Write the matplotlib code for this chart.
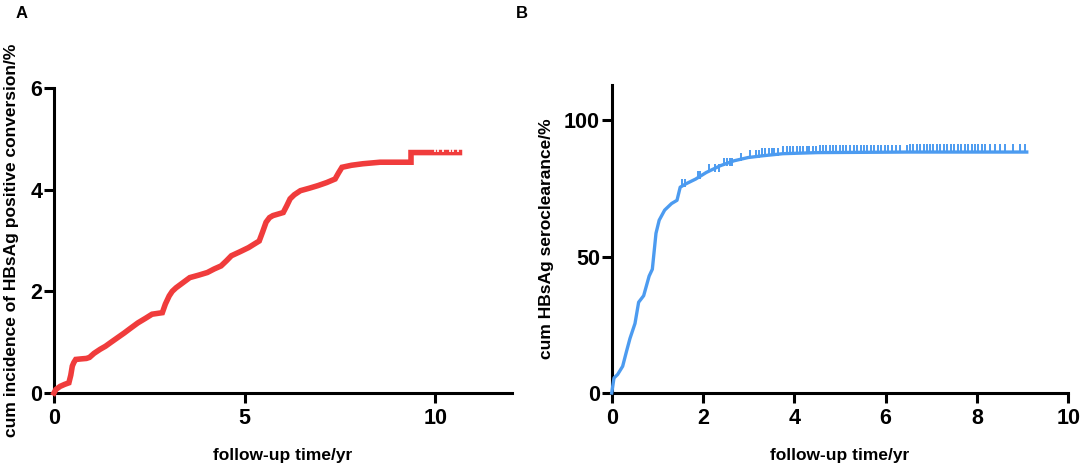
import numpy as np
import matplotlib.pyplot as plt
from matplotlib.markers import TICKUP

plt.rcParams['font.family'] = ['Liberation Sans', 'DejaVu Sans']
plt.rcParams['font.weight'] = 'bold'
plt.rcParams['axes.labelweight'] = 'bold'

# Panel A: cumulative incidence of HBsAg positive conversion (%)
time_a = [0, 0.05, 0.16, 0.28, 0.39, 0.44, 0.48, 0.52, 0.57, 0.7,
          0.85, 0.93, 1.05, 1.21, 1.35, 1.48, 1.65, 1.84, 2.0, 2.2,
          2.4, 2.57, 2.84, 2.92, 3.02, 3.1, 3.2, 3.38, 3.56, 3.8,
          4.02, 4.2, 4.38, 4.52, 4.65, 4.88, 5.1, 5.25, 5.38, 5.47,
          5.56, 5.65, 5.74, 6.01, 6.1, 6.19, 6.3, 6.46, 6.7, 6.92,
          7.15, 7.37, 7.46, 7.55, 7.8, 8.1, 8.55, 9.36, 9.36, 10.63]
cum_a = [0, 0.07, 0.13, 0.17, 0.2, 0.35, 0.53, 0.6, 0.66, 0.67,
         0.68, 0.7, 0.78, 0.86, 0.92, 0.99, 1.08, 1.18, 1.27, 1.38,
         1.47, 1.55, 1.58, 1.75, 1.91, 2.0, 2.07, 2.17, 2.27, 2.32,
         2.37, 2.44, 2.5, 2.6, 2.7, 2.78, 2.86, 2.93, 2.99, 3.17,
         3.36, 3.45, 3.49, 3.55, 3.68, 3.82, 3.9, 3.98, 4.03, 4.08,
         4.14, 4.21, 4.33, 4.44, 4.48, 4.51, 4.54, 4.54, 4.73, 4.73]
censor_a = [9.98, 10.07, 10.2, 10.38, 10.47, 10.6]

# Panel B: cumulative HBsAg seroclearance (%)
time_b = [0, 0.05, 0.13, 0.24, 0.32, 0.4, 0.51, 0.59, 0.7, 0.82,
          0.89, 0.93, 0.97, 1.04, 1.16, 1.31, 1.43, 1.5, 1.62, 1.84,
          2.07, 2.38, 2.68, 2.99, 3.29, 3.75, 4.51, 6.49, 9.09]
cum_b = [0, 5.5, 6.8, 9.8, 15, 20, 25.5, 33.3, 35.7, 42.9,
         45.4, 52, 58.6, 63.4, 67.1, 69.5, 70.7, 75.5, 76.7, 78.5,
         80.9, 83.4, 85.2, 86.4, 87.0, 87.8, 88.2, 88.4, 88.4]
censor_b = [1.54, 1.60, 1.88, 1.94, 2.13, 2.26, 2.34, 2.45, 2.52, 2.59,
            2.64, 2.84, 3.03, 3.16, 3.22, 3.29, 3.35, 3.45, 3.51, 3.56,
            3.64, 3.75, 3.83, 3.90, 3.98, 4.05, 4.12, 4.2, 4.27, 4.33,
            4.41, 4.48, 4.56, 4.63, 4.70, 4.78, 4.85, 4.92, 5.0, 5.06,
            5.14, 5.22, 5.3, 5.37, 5.45, 5.52, 5.6, 5.68, 5.75, 5.83,
            5.9, 5.98, 6.06, 6.14, 6.22, 6.31, 6.46, 6.53, 6.6, 6.68,
            6.75, 6.83, 6.9, 6.97, 7.04, 7.12, 7.2, 7.28, 7.35, 7.43,
            7.5, 7.58, 7.66, 7.73, 7.8, 7.88, 7.95, 8.03, 8.1, 8.17,
            8.28, 8.39, 8.5, 8.61, 8.79, 8.94, 9.05]

xticks_a = [0, 5, 10]
yticks_a = [0, 2, 4, 6]
xticks_b = [0, 2, 4, 6, 8, 10]
yticks_b = [0, 50, 100]

RED = '#F03C3C'
BLUE = '#4C9BF0'

W, H = 1084, 469
fig = plt.figure(figsize=(W / 100, H / 100), dpi=100)

ax_a = fig.add_axes([54 / W, 1 - 393 / H, 457.7 / W, 305 / H])
ax_b = fig.add_axes([611.7 / W, 1 - 393 / H, 456.6 / W, 308 / H])


def km_value(times, values, t):
    idx = np.searchsorted(times, t, side='right') - 1
    return np.asarray(values)[idx]


def style_axis(ax):
    for side in ['top', 'right']:
        ax.spines[side].set_visible(False)
    for side in ['left', 'bottom']:
        ax.spines[side].set_linewidth(2.2)
    ax.tick_params(direction='out', length=7, width=2.2, labelsize=15.5)
    ax.tick_params(axis='x', pad=4)
    ax.tick_params(axis='y', pad=1.5)


# Panel A
ax_a.plot(time_a, cum_a, color=RED, lw=4.0, solid_joinstyle='miter',
          clip_on=False, zorder=3)
ax_a.plot(censor_a, km_value(time_a, cum_a, censor_a) + 0.02, ls='none',
          marker=TICKUP, ms=4, mew=1.2, color='white', zorder=4)
ax_a.set_xlim(0, 12)
ax_a.set_ylim(0, 6)
ax_a.set_xticks(xticks_a)
ax_a.set_yticks(yticks_a)
style_axis(ax_a)
ax_a.set_xlabel('follow-up time/yr', fontsize=12.5, va='center')
ax_a.set_ylabel('cum incidence of HBsAg positive conversion/%',
                fontsize=12.5, va='center')
ax_a.xaxis.set_label_coords(0.5, (393 - 455) / 305)
ax_a.yaxis.set_label_coords((12 - 54) / 457.7, 0.5)

# Panel B
ax_b.plot(time_b, cum_b, color=BLUE, lw=2.4, clip_on=False, zorder=3)
ax_b.plot(censor_b, km_value(time_b, cum_b, censor_b), ls='none',
          marker=TICKUP, ms=5.5, mew=1.4, color=BLUE, zorder=3)
ax_b.set_xlim(0, 10)
ax_b.set_ylim(0, 113)
ax_b.set_xticks(xticks_b)
ax_b.set_yticks(yticks_b)
style_axis(ax_b)
ax_b.set_xlabel('follow-up time/yr', fontsize=12.5, va='center')
ax_b.set_ylabel('cum HBsAg seroclearance/%', fontsize=12.5, va='center')
ax_b.xaxis.set_label_coords(0.5, (393 - 455) / 308)
ax_b.yaxis.set_label_coords((546.7 - 611.7) / 456.6, 0.5)

# panel letters
fig.text(22 / W, 1 - 14 / H, 'A', fontsize=12, fontweight='bold',
         ha='center', va='center')
fig.text(522 / W, 1 - 14 / H, 'B', fontsize=12, fontweight='bold',
         ha='center', va='center')

fig.savefig('out.png', dpi=100)
